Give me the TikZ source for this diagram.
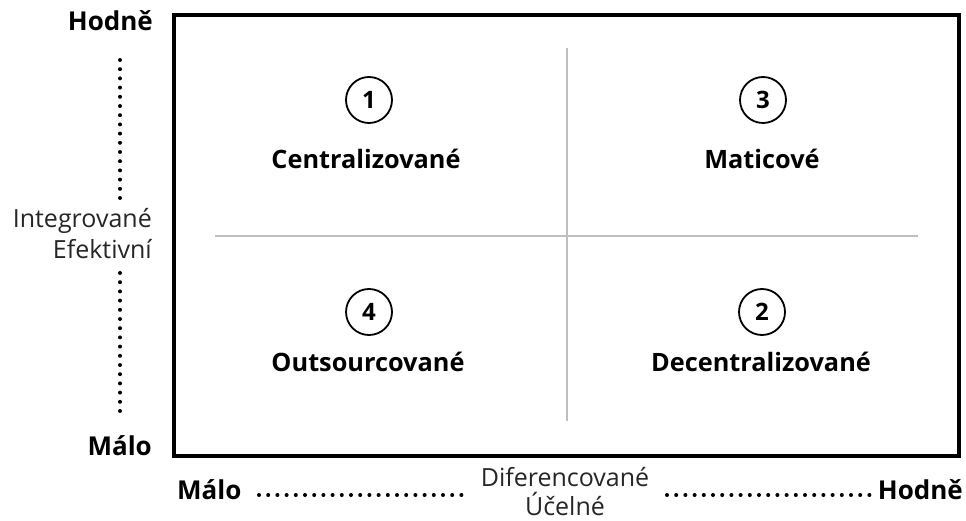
\documentclass[tikz,border=0pt]{standalone}
\usepackage{fontspec}
\setmainfont{Open Sans}
\begin{document}
\begin{tikzpicture}[x=1pt,y=-1pt,
  quad/.style={font=\fontsize{25.3}{30}\selectfont\bfseries, inner sep=0pt, anchor=base},
  axisbold/.style={font=\fontsize{26}{30}\selectfont\bfseries, inner sep=0pt},
  axisreg/.style={font=\fontsize{25}{29}\selectfont, text=black!85, inner sep=0pt},
  numcircle/.style={circle, draw, line width=1.8pt, minimum size=46pt, inner sep=0pt,
    font=\fontsize{24}{28}\selectfont\bfseries},
  frame/.style={line width=4pt},
  divider/.style={line width=2pt, draw=black!25},
  dotline/.style={line width=4pt, line cap=round, dash pattern=on 0pt off 9.2pt}]
  \useasboundingbox (0,0) rectangle (966,521);

  % outer frame and quadrant dividers
  \draw[frame] (174,15) rectangle (959,456);
  \coordinate (vtop) at (567,48);
  \coordinate (vbot) at (567,421);
  \coordinate (hleft) at (215,236);
  \coordinate (hright) at (918,236);
  \draw[divider] (vtop) -- (vbot);
  \draw[divider] (hleft) -- (hright);

  % quadrants
  \node[numcircle] (n1) at (369,100) {1};
  \node[numcircle] (n3) at (763,100) {3};
  \node[numcircle] (n4) at (369,312) {4};
  \node[numcircle] (n2) at (762,312) {2};
  \node[quad] (q1) at (366,169) {Centralizované};
  \node[quad] (q3) at (762,169) {Maticové};
  \node[quad] (q4) at (368,371) {Outsourcované};
  \node[quad] (q2) at (761,371) {Decentralizované};

  % vertical axis
  \node[axisbold, anchor=base east] (yhi) at (153,31) {Hodně};
  \node[axisreg, anchor=base east] (yint) at (152,228) {Integrované};
  \node[axisreg, anchor=base east] (yeff) at (152,259) {Efektivní};
  \node[axisbold, anchor=base east] (ylo) at (152,455) {Málo};
  \coordinate (ya) at (120,60);
  \coordinate (yb) at (120,203);
  \coordinate (yc) at (120,273);
  \coordinate (yd) at (120,416);
  \draw[dotline] (ya) -- (yb);
  \draw[dotline] (yc) -- (yd);

  % horizontal axis
  \node[axisbold, anchor=base west] (xlo) at (177,499) {Málo};
  \node[axisreg, anchor=base] (xdif) at (565,486) {Diferencované};
  \node[axisreg, anchor=base] (xuce) at (565,515) {Účelné};
  \node[axisbold, anchor=base east] (xhi) at (963,499) {Hodně};
  \coordinate (xa) at (259,495);
  \coordinate (xb) at (463,495);
  \coordinate (xc) at (667,495);
  \coordinate (xd) at (877,495);
  \draw[dotline] (xa) -- (xb);
  \draw[dotline] (xc) -- (xd);
\end{tikzpicture}
\end{document}
